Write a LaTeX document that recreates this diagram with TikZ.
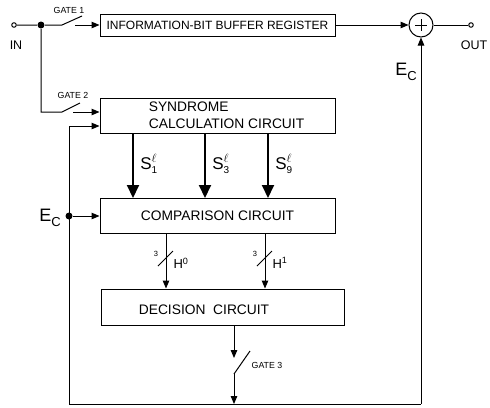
\documentclass[tikz,border=0pt]{standalone}
\usepackage{fontspec}
\setmainfont{Liberation Sans}
\usepackage{amsmath}
\usetikzlibrary{arrows.meta}

\begin{document}
\begin{tikzpicture}[x=1pt, y=-1pt, line width=1pt,
  blk/.style={draw, inner sep=0pt, font=\fontsize{13.8}{16}\selectfont},
  sig/.style={-{Triangle[length=8pt,width=6.5pt]}},
  bus/.style={-{Triangle[length=13pt,width=12pt]}, line width=2pt},
  term/.style={draw, circle, inner sep=0pt, minimum size=4.5pt},
  dot/.style={fill, circle, inner sep=0pt, minimum size=7pt},
  gatelbl/.style={font=\fontsize{8.8}{10}\selectfont},
  eclbl/.style={font=\fontsize{18}{18}\selectfont}]
  \useasboundingbox (0,0) rectangle (490,407);

  % Blocks
  \node[blk, minimum width=235pt, minimum height=22pt,
        font=\fontsize{12}{14}\selectfont] (buf) at (217.5,25) {INFORMATION-BIT BUFFER REGISTER};
  \node[blk, minimum width=235pt, minimum height=35pt] (syn) at (217.5,115.5) {};
  \node[anchor=west, align=left, font=\fontsize{13.8}{17}\selectfont] (syntxt) at (145,115.5)
        {SYNDROME\\CALCULATION CIRCUIT};
  \node[blk, minimum width=235pt, minimum height=35pt] (cmp) at (217.5,216) {COMPARISON CIRCUIT};
  \node[blk, minimum width=243pt, minimum height=36pt] (dec) at (222.5,307) {};
  \node[anchor=west, font=\fontsize{13.8}{16}\selectfont] (dectxt) at (135,310) {DECISION\ \ CIRCUIT};

  % Adder
  \node[draw, circle, minimum size=24pt, inner sep=0pt] (add) at (421,25) {};
  \draw (add.center) ++(-6,0) -- ++(12,0);
  \draw (add.center) ++(0,-6) -- ++(0,12);

  % Terminals and junctions
  \node[term] (in) at (14,25) {};
  \node[term] (out) at (471,25) {};
  \node[dot] (j1) at (41,25) {};
  \node[dot] (j2) at (69,216) {};
  \node[font=\fontsize{12.5}{14}\selectfont] (inlbl) at (16,45) {IN};
  \node[font=\fontsize{12.5}{14}\selectfont] (outlbl) at (474,45) {OUT};

  % Gate 1
  \coordinate (g1a) at (62,25);
  \coordinate (g1b) at (82,16);
  \coordinate (g1c) at (75,25);
  \draw (in) -- (j1) -- (g1a) -- (g1b);
  \draw[sig] (g1c) -- (buf.west);
  \node[gatelbl] (gate1) at (69,10) {GATE 1};

  % Gate 2
  \coordinate (g2) at (41,112);
  \coordinate (g2a) at (62,112);
  \coordinate (g2b) at (80,103);
  \coordinate (g2c) at (73,112);
  \draw (j1) -- (g2) -- (g2a) -- (g2b);
  \draw[sig] (g2c) -- (g2c -| syn.west);
  \node[gatelbl] (gate2) at (73,95) {GATE 2};

  % Buffer to adder to output
  \draw[sig] (buf.east) -- (add.west);
  \draw (add.east) -- (out);

  % Syndromes
  \foreach \x/\n in {133/1, 205/3, 268/9} {
    \path (\x,0) coordinate (sx);
    \draw[bus] (syn.south -| sx) -- (cmp.north -| sx);
    \node[font=\fontsize{17}{17}\selectfont] at (\x+16,164) {$\text{S}^{\ell}_{\text{\fontsize{10}{10}\selectfont\n}}$};
  }

  % Match patterns
  \foreach \x/\n in {166/0, 265/1} {
    \path (\x,0) coordinate (hx);
    \draw[sig] (cmp.south -| hx) -- (dec.north -| hx);
    \draw (\x-8,266) -- (\x+7,251);
    \node[font=\fontsize{7.5}{7.5}\selectfont] at (\x-10,254) {3};
    \node[font=\fontsize{13}{13}\selectfont] at (\x+15,263) {H\textsuperscript{\n}};
  }

  % Gate 3 and error pattern feedback
  \coordinate (g3) at (234,0);
  \coordinate (g3a) at (234,358);
  \coordinate (g3b) at (234,374);
  \coordinate (g3c) at (250,351);
  \coordinate (bl) at (69,404);
  \coordinate (bm) at (234,404);
  \coordinate (br) at (421,404);
  \coordinate (fb) at (69,126);
  \draw[sig] (dec.south -| g3) -- (g3a);
  \draw (g3b) -- (g3c);
  \draw[sig] (g3b) -- (bm);
  \node[gatelbl] (gate3) at (267,365) {GATE 3};
  \draw (bl) -- (br);
  \draw[sig] (br) -- (add.south);
  \draw (bl) -- (fb);
  \draw[sig] (fb) -- (fb -| syn.west);
  \draw[sig] (j2) -- (cmp.west);

  % Labels
  \node[eclbl] (ecl) at (50,218) {E\raisebox{-5pt}{\fontsize{13}{13}\selectfont C}};
  \node[eclbl] (ecr) at (406,72) {E\raisebox{-5pt}{\fontsize{13}{13}\selectfont C}};
\end{tikzpicture}
\end{document}
